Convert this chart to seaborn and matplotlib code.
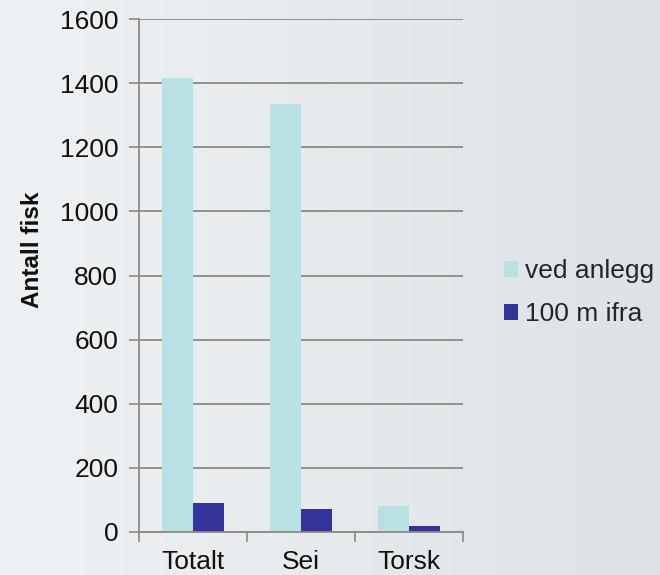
import numpy as np
import pandas as pd
import matplotlib
matplotlib.use("Agg")
import matplotlib.pyplot as plt
import seaborn as sns
from matplotlib.colors import LinearSegmentedColormap

categories = ["Totalt", "Sei", "Torsk"]
series_names = ["ved anlegg", "100 m ifra"]
ved_anlegg = [1415, 1335, 81]
m100_ifra = [89, 72, 18]
yticks = [0, 200, 400, 600, 800, 1000, 1200, 1400, 1600]

df = pd.DataFrame({
    "kategori": categories * 2,
    "serie": [series_names[0]] * 3 + [series_names[1]] * 3,
    "antall": ved_anlegg + m100_ifra,
})

sns.set_theme(style="white")
plt.rcParams["font.family"] = ["Liberation Sans", "DejaVu Sans"]

fig = plt.figure(figsize=(6.6, 5.75), dpi=100)

# gradient background
bg = fig.add_axes([0, 0, 1, 1], zorder=-10)
grad = np.linspace(0, 1, 256)[None, :]
cmap = LinearSegmentedColormap.from_list("bg", ["#eff2f4", "#dce2e6"])
bg.imshow(grad, aspect="auto", cmap=cmap, extent=[0, 1, 0, 1])
bg.set_axis_off()

ax = fig.add_axes([0.2106, 0.0748, 0.4909, 0.892])
ax.set_facecolor("none")
palette = ["#b9e0e3", "#333399"]
sns.barplot(data=df, x="kategori", y="antall", hue="serie", palette=palette,
            width=0.574, ax=ax, saturation=1, legend=True, linewidth=0,
            edgecolor="none")

ax.set_ylim(0, 1600)
ax.set_xlim(-0.5, 2.5)
ax.set_yticks(yticks)
ax.set_yticklabels([str(v) for v in yticks], fontsize=19, color="#111111")
ax.yaxis.grid(True, color="#8a8a8a", linewidth=1.3)
ax.set_axisbelow(True)
ax.set_xlabel("")
ax.set_ylabel("Antall fisk", fontsize=17.5, fontweight="bold", color="#111111")
ax.yaxis.set_label_coords(-0.292, 0.55)

ax.tick_params(axis="y", direction="out", length=7, width=1.2, color="#8a8a8a", left=True, pad=8)
ax.tick_params(axis="x", which="major", length=0, labelsize=19, labelcolor="#111111", pad=13)
ax.set_xticks([-0.5, 0.5, 1.5, 2.5], minor=True)
ax.tick_params(axis="x", which="minor", direction="out", length=7, width=1.2, color="#8a8a8a", bottom=True)

for s in ["top", "right"]:
    ax.spines[s].set_visible(False)
for s in ["left", "bottom"]:
    ax.spines[s].set_color("#8a8a8a")
    ax.spines[s].set_linewidth(1.3)

handles, labels = ax.get_legend_handles_labels()
ax.legend_.remove()
fig.legend(handles, labels, loc="center left", bbox_to_anchor=(0.763, 0.491),
           frameon=False, fontsize=19, handlelength=0.55, handleheight=0.55,
           handletextpad=0.25, labelspacing=0.7, borderaxespad=0, borderpad=0)

fig.savefig("out.png", dpi=100)
